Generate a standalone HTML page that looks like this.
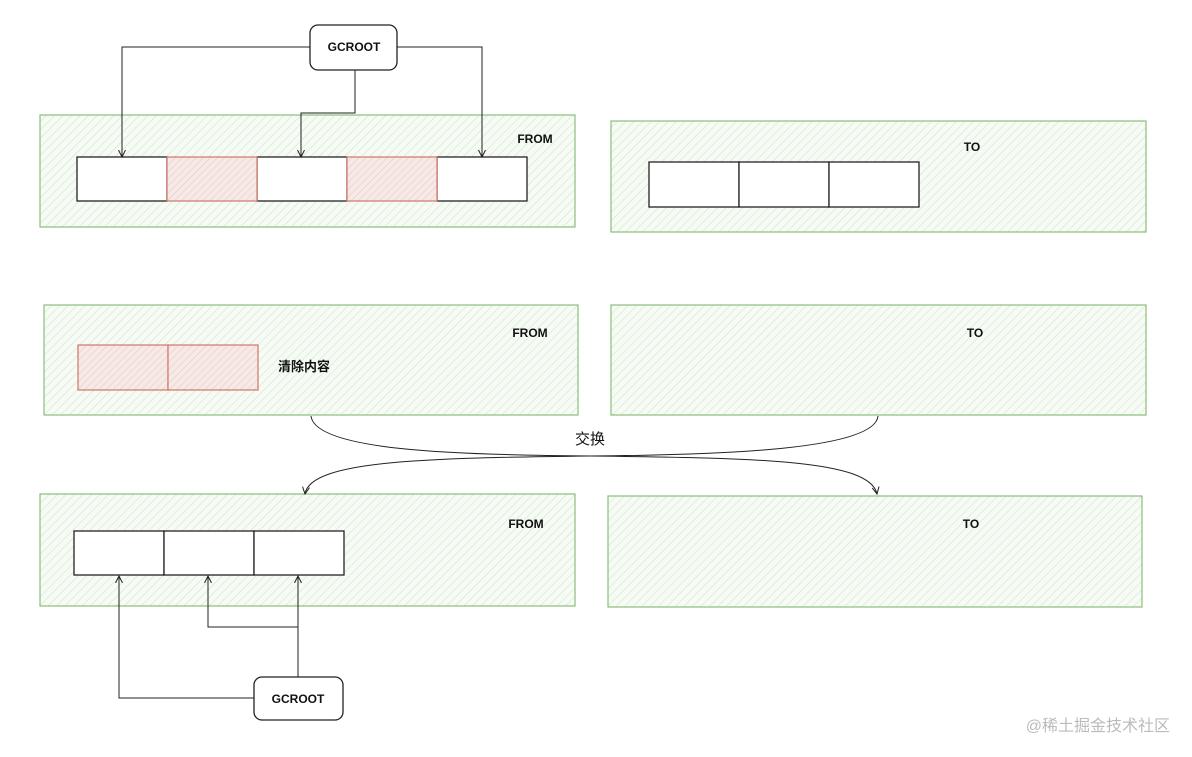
<!DOCTYPE html>
<html><head><meta charset="utf-8"><style>
html,body{margin:0;padding:0;background:#fff;width:1192px;height:757px;overflow:hidden}
svg{display:block}
text{font-family:"Liberation Sans","Noto Sans CJK SC",sans-serif}
</style></head><body>
<svg width="1192" height="757" viewBox="0 0 1192 757" xmlns="http://www.w3.org/2000/svg">
<defs>
<pattern id="h" width="6" height="6" patternUnits="userSpaceOnUse" patternTransform="rotate(45)">
<rect width="6" height="6" fill="#f7fbf5"/>
<line x1="0" y1="0" x2="0" y2="6" stroke="#d3e6cb" stroke-width="1.2"/>
</pattern>
<pattern id="r" width="5" height="5" patternUnits="userSpaceOnUse" patternTransform="rotate(45)">
<rect width="5" height="5" fill="#f6e9e6"/>
<line x1="0" y1="0" x2="0" y2="5" stroke="#e5cdc8" stroke-width="1.2"/>
</pattern>
<marker id="a" markerWidth="8" markerHeight="8" refX="7" refY="4" orient="auto" markerUnits="userSpaceOnUse">
<path d="M0,0.5 L7,4 L0,7.5" fill="none" stroke="#222" stroke-width="1"/>
</marker>
</defs>
<g stroke="#8cbf7a" stroke-width="1.2" fill="url(#h)">
<rect x="40" y="115" width="535" height="112"/>
<rect x="611" y="121" width="535" height="111"/>
<rect x="44" y="305" width="534" height="110"/>
<rect x="611" y="305" width="535" height="110"/>
<rect x="40" y="494" width="535" height="112"/>
<rect x="608" y="496" width="534" height="111"/>
</g>
<g stroke="#222" stroke-width="1.3">
<rect x="77" y="157" width="90" height="44" fill="#fff"/>
<rect x="257" y="157" width="90" height="44" fill="#fff"/>
<rect x="437" y="157" width="90" height="44" fill="#fff"/>
<rect x="649" y="162" width="90" height="45" fill="#fff"/>
<rect x="739" y="162" width="90" height="45" fill="#fff"/>
<rect x="829" y="162" width="90" height="45" fill="#fff"/>
<rect x="74" y="531" width="90" height="44" fill="#fff"/>
<rect x="164" y="531" width="90" height="44" fill="#fff"/>
<rect x="254" y="531" width="90" height="44" fill="#fff"/>
<rect x="310" y="25" width="87" height="45" rx="8" fill="#fff"/>
<rect x="254" y="677" width="89" height="43" rx="8" fill="#fff"/>
</g>
<g stroke="#d0766a" stroke-width="1.2" fill="url(#r)">
<rect x="167" y="157" width="90" height="44"/>
<rect x="347" y="157" width="90" height="44"/>
<rect x="78" y="345" width="90" height="45"/>
<rect x="168" y="345" width="90" height="45"/>
</g>
<g stroke="#222" stroke-width="1" fill="none">
<path d="M310,47 L122,47 L122,157" marker-end="url(#a)"/>
<path d="M355,70 L355,113 L301,113 L301,157" marker-end="url(#a)"/>
<path d="M397,47 L482,47 L482,157" marker-end="url(#a)"/>
<path d="M254,698 L119,698 L119,576" marker-end="url(#a)"/>
<path d="M298,677 L298,576" marker-end="url(#a)"/>
<path d="M298,627 L208,627 L208,576" marker-end="url(#a)"/>
<path d="M311,416 C315,450 450,455 590,456 C760,458 870,460 877,494" marker-end="url(#a)"/>
<path d="M878,416 C875,450 720,455 590,456 C430,458 310,460 305,494" marker-end="url(#a)"/>
</g>
<g font-size="12" font-weight="bold" fill="#111" text-anchor="middle">
<text x="354" y="51">GCROOT</text>
<text x="298" y="703">GCROOT</text>
<text x="535" y="143">FROM</text>
<text x="972" y="151">TO</text>
<text x="530" y="337">FROM</text>
<text x="975" y="337">TO</text>
<text x="526" y="528">FROM</text>
<text x="971" y="528">TO</text>
</g>
<text x="278" y="371" font-size="13" font-weight="bold" fill="#111">清除内容</text>
<text x="590" y="444" font-size="15" fill="#111" text-anchor="middle">交换</text>
<text x="1170" y="731" font-size="16" fill="#bbb" text-anchor="end">@稀土掘金技术社区</text>
</svg>
</body></html>
